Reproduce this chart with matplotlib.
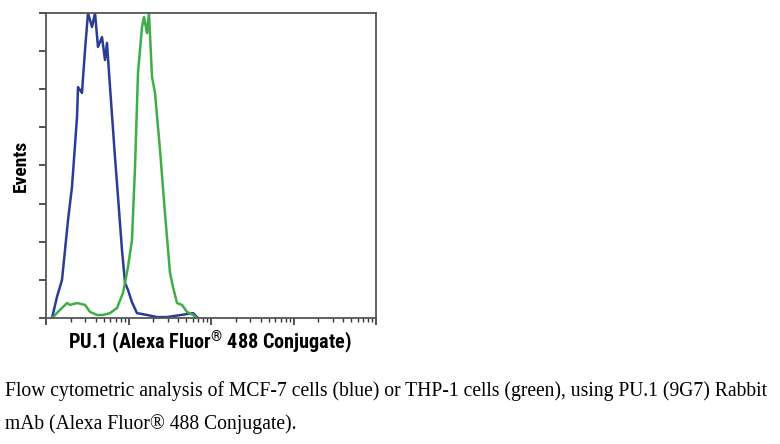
import numpy as np
import matplotlib
matplotlib.use("Agg")
import matplotlib.pyplot as plt
from matplotlib.ticker import LogLocator, NullFormatter, MultipleLocator

# log10 fluorescence and % of max events
blue_logx = [0.073, 0.133, 0.194, 0.267, 0.315, 0.376, 0.388, 0.436, 0.473, 0.509,
             0.558, 0.594, 0.630, 0.679, 0.715, 0.739, 0.776, 0.836, 0.873, 0.921,
             0.958, 0.994, 1.042, 1.103, 1.224, 1.345, 1.467, 1.782, 1.842]
blue_y = [0, 6.9, 12.5, 32.1, 43.0, 65.9, 75.7, 73.8, 87.9, 100,
          95.4, 100, 88.9, 92.1, 84.6, 90.2, 75.7, 52.8, 39.7, 22.3,
          11.5, 9.2, 5.2, 1.6, 1.0, 0.3, 0.3, 1.6, 0]

green_logx = [0.085, 0.145, 0.255, 0.291, 0.376, 0.473, 0.533, 0.618, 0.691, 0.776,
              0.861, 0.933, 0.994, 1.042, 1.079, 1.115, 1.164, 1.188, 1.224, 1.248,
              1.285, 1.321, 1.382, 1.442, 1.503, 1.539, 1.588, 1.648, 1.709, 1.782, 1.830]
green_y = [0.3, 2.0, 4.9, 4.3, 4.9, 4.3, 2.0, 1.0, 1.0, 1.6,
           3.3, 8.2, 16.7, 25.6, 49.5, 80.3, 95.4, 98.7, 93.4, 100,
           79.0, 73.8, 55.1, 34.4, 14.8, 10.2, 4.9, 4.3, 2.0, 1.0, 0]

xlabel = "PU.1 (Alexa Fluor$^{\u00ae}$ 488 Conjugate)"
ylabel = "Events"
caption = ["Flow cytometric analysis of MCF-7 cells (blue) or THP-1 cells (green), using PU.1 (9G7) Rabbit",
           "mAb (Alexa Fluor\u00ae 488 Conjugate)."]

narrow = ["Roboto Condensed", "DejaVu Sans"]
serif = ["Liberation Serif", "DejaVu Serif"]

# superscript ® drawn in the same condensed face
plt.rcParams["mathtext.fontset"] = "custom"
plt.rcParams["mathtext.rm"] = "Roboto Condensed:bold"
plt.rcParams["mathtext.it"] = "Roboto Condensed:bold"
plt.rcParams["mathtext.bf"] = "Roboto Condensed:bold"
plt.rcParams["mathtext.default"] = "rm"

fig = plt.figure(figsize=(7.8, 4.44), dpi=100)
ax = fig.add_axes([46 / 780, 1 - 318 / 444, 330 / 780, 305 / 444])

ax.plot(10 ** np.array(blue_logx), blue_y, color="#2b3b98", lw=1.8)
ax.plot(10 ** np.array(green_logx), green_y, color="#3fae48", lw=1.8)

ax.set_xscale("log")
ax.set_xlim(1, 1e4)
ax.set_ylim(0, 100)
ax.xaxis.set_major_locator(LogLocator(base=10, numticks=10))
ax.xaxis.set_minor_locator(LogLocator(base=10, subs=np.arange(2, 10), numticks=20))
ax.xaxis.set_major_formatter(NullFormatter())
ax.xaxis.set_minor_formatter(NullFormatter())
ax.yaxis.set_major_locator(MultipleLocator(12.5))
ax.set_yticklabels([])
ax.tick_params(axis="both", which="major", direction="out", length=5, width=1.2, color="#333333")
ax.tick_params(axis="x", which="minor", direction="out", length=3, width=1.0, color="#333333")
for s in ax.spines.values():
    s.set_color("#555555")
    s.set_linewidth(1.3)

fig.text(21 / 780, 1 - 166 / 444, ylabel, family=narrow, fontweight="bold", fontsize=14,
         rotation=90, ha="center", va="center")
fig.text(210 / 780, 1 - 349 / 444, xlabel, family=narrow, fontweight="bold", fontsize=14.6,
         ha="center", va="baseline")

fig.text(5 / 780, 1 - 396 / 444, caption[0], family=serif, fontsize=14.1, va="baseline")
fig.text(5 / 780, 1 - 429 / 444, caption[1], family=serif, fontsize=14.1, va="baseline")

fig.savefig("out.png", dpi=100)
